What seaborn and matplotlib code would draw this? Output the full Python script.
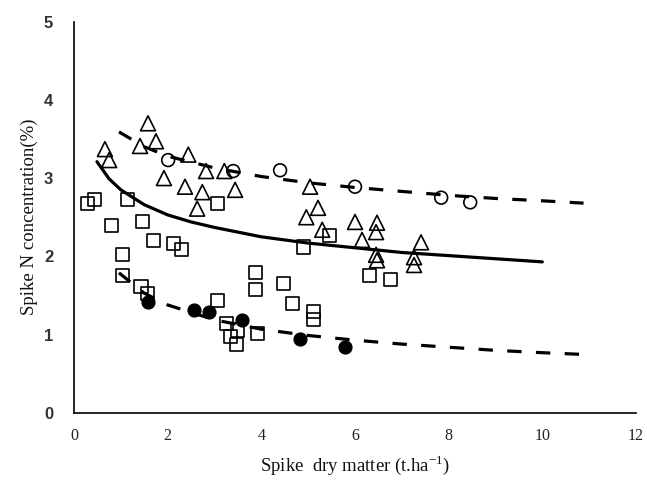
import numpy as np
import pandas as pd
import matplotlib
matplotlib.use("Agg")
import matplotlib.pyplot as plt
import seaborn as sns

# Scatter data (spike dry matter t/ha, spike N %)
tri_x = [0.66, 0.75, 1.58, 1.41, 1.75, 2.44, 1.92, 2.82, 3.21, 2.37, 2.74, 3.44, 2.63,
         5.04, 5.21, 4.96, 5.30, 6.00, 6.15, 6.47, 6.45, 6.45, 6.47, 7.41, 7.26, 7.26]
tri_y = [3.37, 3.23, 3.70, 3.41, 3.47, 3.30, 3.00, 3.09, 3.09, 2.89, 2.82, 2.85, 2.61,
         2.89, 2.62, 2.50, 2.34, 2.44, 2.21, 2.43, 2.31, 2.02, 1.95, 2.18, 1.99, 1.89]

circ_x = [2.01, 3.40, 4.40, 6.00, 7.84, 8.46]
circ_y = [3.23, 3.09, 3.10, 2.89, 2.75, 2.69]

sq_x = [0.28, 0.43, 1.15, 0.81, 1.47, 1.69, 2.12, 2.29, 1.03, 3.06, 4.89, 5.45, 1.03, 1.43,
        1.56, 3.87, 3.87, 4.47, 3.06, 4.66, 5.11, 5.11, 3.25, 3.50, 3.35, 3.46, 3.91, 6.30, 6.75]
sq_y = [2.68, 2.73, 2.73, 2.40, 2.44, 2.20, 2.17, 2.09, 2.03, 2.68, 2.12, 2.27, 1.76, 1.61,
        1.52, 1.80, 1.58, 1.65, 1.44, 1.40, 1.30, 1.19, 1.14, 1.06, 0.98, 0.88, 1.01, 1.76, 1.71]

dot_x = [1.58, 2.56, 2.88, 3.59, 4.83, 5.79]
dot_y = [1.42, 1.32, 1.29, 1.19, 0.95, 0.84]

# Curves read along their paths
mid_x = [0.49, 0.75, 1.0, 1.5, 2.0, 2.5, 3.0, 4.0, 5.0, 6.0, 7.0, 8.0, 9.0, 10.0]
mid_y = [3.21, 2.99, 2.85, 2.66, 2.53, 2.44, 2.37, 2.25, 2.17, 2.11, 2.05, 2.01, 1.97, 1.93]

up_x = [0.96, 1.5, 2.0, 3.0, 4.0, 5.0, 6.0, 7.0, 8.0, 9.0, 10.0, 10.88]
up_y = [3.59, 3.40, 3.28, 3.13, 3.02, 2.94, 2.88, 2.83, 2.78, 2.74, 2.71, 2.68]

low_x = [0.96, 1.5, 2.0, 3.0, 4.0, 5.0, 6.0, 7.0, 8.0, 9.0, 10.0, 10.8]
low_y = [1.79, 1.53, 1.38, 1.19, 1.07, 0.99, 0.93, 0.88, 0.84, 0.80, 0.77, 0.75]

sns.set_style("white")

fig = plt.figure(figsize=(6.47, 4.8), dpi=100)
ax = fig.add_axes([0.1144, 0.1396, 0.8686, 0.8156])

dash = (0, (4.5, 4.5))
sns.lineplot(x=up_x, y=up_y, ax=ax, color="black", lw=2.3, linestyle=dash, sort=False, zorder=1)
sns.lineplot(x=low_x, y=low_y, ax=ax, color="black", lw=2.3, linestyle=dash, sort=False, zorder=1)
sns.lineplot(x=mid_x, y=mid_y, ax=ax, color="black", lw=2.3, sort=False, zorder=1)

sns.scatterplot(x=sq_x, y=sq_y, ax=ax, marker="s", s=88, facecolor="none",
                edgecolor="black", linewidth=1.2, zorder=3)
sns.scatterplot(x=tri_x, y=tri_y, ax=ax, marker="^", s=115, facecolor="none",
                edgecolor="black", linewidth=1.2, zorder=3)
sns.scatterplot(x=circ_x, y=circ_y, ax=ax, marker="o", s=85, facecolor="none",
                edgecolor="black", linewidth=1.2, zorder=3)
sns.scatterplot(x=dot_x, y=dot_y, ax=ax, marker="o", s=85, color="black",
                edgecolor="black", linewidth=1.0, zorder=3)

ax.set_xlim(0, 12)
ax.set_ylim(0, 5)
ax.set_xticks(range(0, 13, 2))
ax.set_yticks(range(0, 6))
ax.spines["top"].set_visible(False)
ax.spines["right"].set_visible(False)
for s in ["left", "bottom"]:
    ax.spines[s].set_color("black")
    ax.spines[s].set_linewidth(1.2)
ax.tick_params(direction="in", length=4, width=1.0, color="black")
ax.tick_params(axis="x", pad=11)
ax.tick_params(axis="y", pad=15)

for lab in ax.get_xticklabels():
    lab.set_fontfamily("Liberation Serif")
    lab.set_fontsize(11.5)
    lab.set_color("#222222")
for lab in ax.get_yticklabels():
    lab.set_fontfamily("Liberation Sans")
    lab.set_fontsize(12)
    lab.set_fontweight("bold")
    lab.set_color("#333333")

ax.set_xlabel("Spike  dry matter (t.ha$^{\\mathregular{-1}}$)", fontfamily="Liberation Serif",
              fontsize=13.5, color="#111111", labelpad=6)
ax.set_ylabel("Spike N concentration(%)", fontfamily="Liberation Serif",
              fontsize=13.5, color="#111111", labelpad=4)

fig.savefig("out.png", dpi=100)
